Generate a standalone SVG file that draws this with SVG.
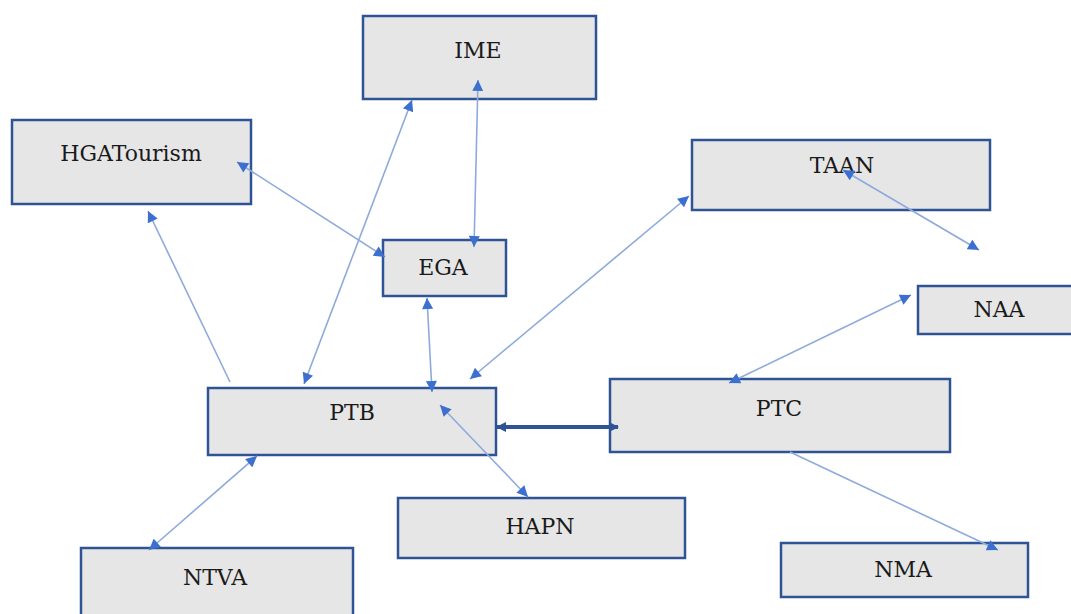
<svg xmlns="http://www.w3.org/2000/svg" width="1071" height="614" viewBox="0 0 1071 614">
<style>
.box{fill:#e6e6e6;stroke:#2f5496;stroke-width:2.5}
.lbl{font-family:"DejaVu Serif","Liberation Serif",serif;font-size:22px;fill:#1a1a1a;text-anchor:middle;dominant-baseline:central}
.c{fill:none;stroke:#8eaadb;stroke-width:1.6}
.t{fill:none;stroke:#2f5496;stroke-width:4}
</style>
<defs>
<marker id="a" viewBox="0 0 10 10" refX="10" refY="5" markerWidth="12" markerHeight="11" markerUnits="userSpaceOnUse" orient="auto-start-reverse">
<path d="M0,0 L10,5 L0,10 z" fill="#3b6fd0"/>
</marker>
<marker id="d" viewBox="0 0 10 10" refX="9" refY="5" markerWidth="10" markerHeight="13" markerUnits="userSpaceOnUse" orient="auto-start-reverse">
<path d="M0,0 L10,5 L0,10 z" fill="#2f5496"/>
</marker>
</defs>
<rect width="1071" height="614" fill="#ffffff"/>
<g id="IME"><rect class="box" x="363" y="16" width="233" height="83"/><text class="lbl" x="478" y="50">IME</text></g>
<g id="HGATourism"><rect class="box" x="12" y="120" width="239" height="84"/><text class="lbl" x="131" y="153">HGATourism</text></g>
<g id="TAAN"><rect class="box" x="692" y="140" width="298" height="70"/><text class="lbl" x="842" y="165">TAAN</text></g>
<g id="EGA"><rect class="box" x="383" y="240" width="123" height="56"/><text class="lbl" x="443" y="267">EGA</text></g>
<g id="NAA"><rect class="box" x="918" y="286" width="160" height="48"/><text class="lbl" x="999" y="309">NAA</text></g>
<g id="PTB"><rect class="box" x="208" y="388" width="288" height="67"/><text class="lbl" x="352" y="412">PTB</text></g>
<g id="PTC"><rect class="box" x="610" y="379" width="340" height="73"/><text class="lbl" x="779" y="408">PTC</text></g>
<g id="HAPN"><rect class="box" x="398" y="498" width="287" height="60"/><text class="lbl" x="540" y="526">HAPN</text></g>
<g id="NTVA"><rect class="box" x="81" y="548" width="272" height="72"/><text class="lbl" x="215" y="577">NTVA</text></g>
<g id="NMA"><rect class="box" x="781" y="543" width="247" height="54"/><text class="lbl" x="903" y="569">NMA</text></g>
<g id="connectors">
<path class="c" d="M230,382 L148,211" marker-end="url(#a)"/>
<path class="c" d="M412,100 L304,384" marker-start="url(#a)" marker-end="url(#a)"/>
<path class="c" d="M478,80 L474,247" marker-start="url(#a)" marker-end="url(#a)"/>
<path class="c" d="M237,162 L385,257" marker-start="url(#a)" marker-end="url(#a)"/>
<path class="c" d="M427,298 L432,392" marker-start="url(#a)" marker-end="url(#a)"/>
<path class="c" d="M689,196 L470,379" marker-start="url(#a)" marker-end="url(#a)"/>
<path class="c" d="M843,170 L979,250" marker-start="url(#a)" marker-end="url(#a)"/>
<path class="c" d="M911,295 L729,383" marker-start="url(#a)" marker-end="url(#a)"/>
<path class="t" d="M497,427 L618,427" marker-start="url(#d)" marker-end="url(#d)"/>
<path class="c" d="M440,405 L528,497" marker-start="url(#a)" marker-end="url(#a)"/>
<path class="c" d="M257,456 L149,550" marker-start="url(#a)" marker-end="url(#a)"/>
<path class="c" d="M790,452 L998,550" marker-end="url(#a)"/>
</g>
</svg>
